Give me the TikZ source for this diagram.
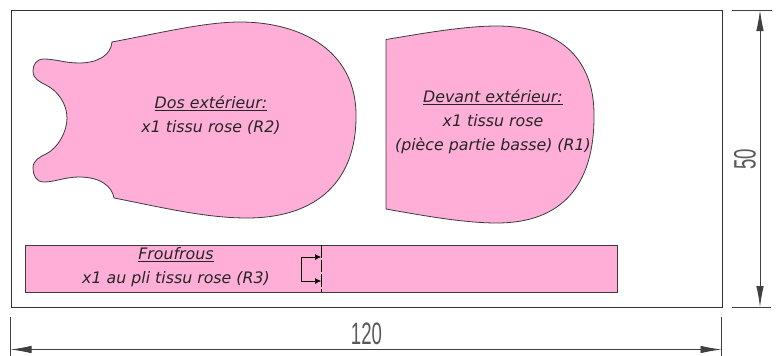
\documentclass[tikz,border=0pt]{standalone}
\usepackage{fontspec}
\setmainfont{DejaVu Sans}
\newfontfamily\dimfont{Liberation Sans}
\usetikzlibrary{arrows.meta,positioning}
\definecolor{tissurose}{RGB}{255,174,215}
\definecolor{trait}{RGB}{60,60,60}

\begin{document}
\begin{tikzpicture}[
    x=1pt, y=-1pt,
    piece/.style={draw=trait, line width=0.8pt, fill=tissurose},
    frame/.style={draw=black!80, line width=1pt},
    dimline/.style={draw=black!75, line width=0.9pt},
    dimarrow/.style={dimline, {Latex[length=21pt,width=7.5pt]}-{Latex[length=21pt,width=7.5pt]}},
    foldarrow/.style={-{Latex[length=6pt,width=6pt]}, draw=black, line width=0.7pt},
    label/.style={align=center, font=\itshape\fontsize{15.8}{24}\selectfont, inner sep=0pt, text=black!85},
    dimlabel/.style={font=\dimfont\fontsize{31}{31}\selectfont, inner sep=0pt, text=black!65, xscale=0.6, transform shape}
]
    \useasboundingbox (0,0) rectangle (777,356);

    % pattern outline
    \node[frame, draw, minimum width=711pt, minimum height=297pt, inner sep=0pt, anchor=north west] (sheet) at (10.5,10) {};

    % back piece
    \path[piece] (112,42) .. controls (160,33) and (205,22) .. (240,22)
        .. controls (300,22) and (357,50) .. (356,117)
        .. controls (356,180) and (318,218) .. (247,218)
        .. controls (205,218) and (160,207) .. (114,198)
        .. controls (112,186) and (100,177) .. (79,177)
        .. controls (65,177) and (55,182) .. (44,182)
        .. controls (36,182) and (33,175) .. (33,168)
        .. controls (33,160) and (40,157) .. (46,154)
        .. controls (58,148) and (67,132) .. (67,118)
        .. controls (67,104) and (58,91) .. (46,85)
        .. controls (40,82) and (33,79) .. (33,71)
        .. controls (33,65) and (36,59) .. (44,59)
        .. controls (55,59) and (65,63) .. (79,63)
        .. controls (98,63) and (111,55) .. (112,42) -- cycle;

    % front piece
    \path[piece] (386,39.5) .. controls (425,33) and (465,26) .. (497,26)
        .. controls (555,26) and (595,55) .. (594,117)
        .. controls (594,185) and (562,223) .. (497,223)
        .. controls (465,223) and (425,216) .. (386,209) -- cycle;

    % strip
    \node[piece, minimum width=592pt, minimum height=47pt, inner sep=0pt, anchor=north west] (strip) at (25,245) {};
    \coordinate (foldtop) at (321,245);
    \coordinate (foldbot) at (321,292);
    \draw[black, line width=0.7pt, dash pattern=on 13pt off 2pt on 12pt off 2pt] (foldtop) -- (foldbot);
    \coordinate (arrowtop) at (321,257);
    \coordinate (arrowbot) at (321,281);
    \coordinate (arrowleft) at (301,257);
    \coordinate (arrowright) at (301,281);
    \draw[foldarrow] (arrowleft) -- (arrowtop);
    \draw[foldarrow] (arrowright) -- (arrowbot);
    \draw[black, line width=0.7pt] (arrowleft) -- (arrowright);

    \node[label] (dos) at (211,115) {\underline{Dos extérieur:}\\x1 tissu rose (R2)};
    \node[label] (devant) at (493,122) {\underline{Devant extérieur:}\\x1 tissu rose\\(pièce partie basse) (R1)};
    \node[label] (froufrous) at (176,267) {\underline{Froufrous}\\x1 au pli tissu rose (R3)};

    % dimensions
    \coordinate (top-a) at (732,10);
    \coordinate (top-b) at (772,10);
    \coordinate (bot-a) at (732,307);
    \coordinate (bot-b) at (771,307);
    \coordinate (left-a) at (10.5,317);
    \coordinate (left-b) at (10.5,356);
    \coordinate (right-a) at (721.5,317);
    \coordinate (right-b) at (721.5,356);
    \coordinate (v-a) at (760,10);
    \coordinate (v-b) at (760,307);
    \coordinate (h-a) at (10.5,349.5);
    \coordinate (h-b) at (721.5,349.5);
    \draw[dimline] (top-a) -- (top-b);
    \draw[dimline] (bot-a) -- (bot-b);
    \draw[dimline] (left-a) -- (left-b);
    \draw[dimline] (right-a) -- (right-b);
    \draw[dimarrow] (v-a) -- (v-b);
    \draw[dimarrow] (h-a) -- (h-b);
    \node[rotate=90, dimlabel] (dim50) at (745,159) {50};
    \node[dimlabel] (dim120) at (366.5,334) {120};
\end{tikzpicture}
\end{document}
